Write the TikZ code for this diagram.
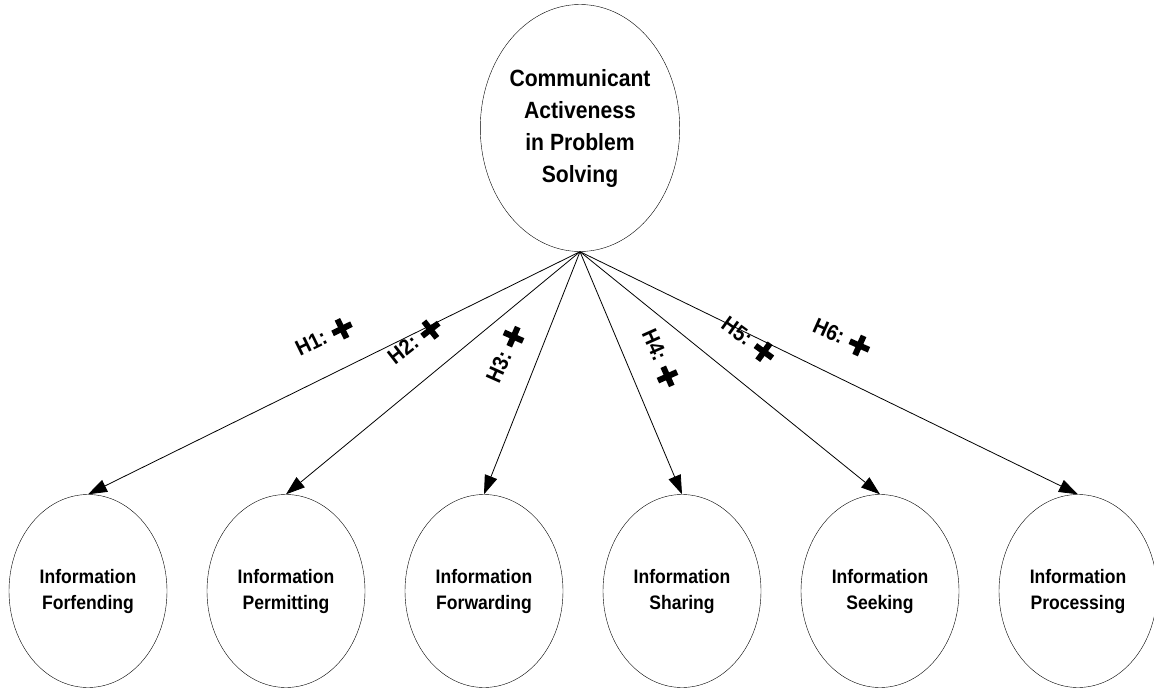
\documentclass[tikz,border=0pt]{standalone}
\usepackage{fontspec}
\setmainfont{Liberation Sans}
\newfontfamily\narrowsans[FakeStretch=0.9]{Liberation Sans}
\usetikzlibrary{shapes.geometric,arrows.meta}

\newcommand{\heavyplus}{\rlap{\rule[3.5pt]{21pt}{6pt}}\hspace{7.5pt}\rule[-4pt]{6pt}{21pt}\hspace{7.5pt}}

\tikzset{
	bigoval/.style={draw, ellipse, inner sep=0pt, minimum width=198pt, minimum height=247pt,
		align=center, font=\narrowsans\fontsize{23.5}{32}\selectfont\bfseries},
	smalloval/.style={draw, ellipse, inner sep=0pt, minimum width=158pt, minimum height=193pt,
		align=center, font=\narrowsans\fontsize{19.5}{26}\selectfont\bfseries},
	hyp/.style={inner sep=0pt, font=\narrowsans\fontsize{22}{24}\selectfont\bfseries},
	link/.style={line width=0.8pt, -{Triangle[length=19pt,width=13pt]}}
}

\begin{document}
\begin{tikzpicture}[x=1pt,y=-1pt]
	\useasboundingbox (0,0) rectangle (1154,690);
	\node[bigoval](cap) at (580,128) {Communicant\\Activeness\\in Problem\\Solving};
	\node[smalloval](i1) at (88,591) {Information\\Forfending};
	\node[smalloval](i2) at (286,591) {Information\\Permitting};
	\node[smalloval](i3) at (484,591) {Information\\Forwarding};
	\node[smalloval](i4) at (682,591) {Information\\Sharing};
	\node[smalloval](i5) at (880,591) {Information\\Seeking};
	\node[smalloval](i6) at (1078,591) {Information\\Processing};
	\foreach \n in {1,...,6}
		\draw[link] (cap.south) -- (i\n.north);
	\node[hyp, rotate=26](h1) at (321,339) {H1: \heavyplus};
	\node[hyp, rotate=38](h2) at (412,344) {H2: \heavyplus};
	\node[hyp, rotate=66](h3) at (504,358) {H3: \heavyplus};
	\node[hyp, rotate=-66](h4) at (658,355) {H4: \heavyplus};
	\node[hyp, rotate=-36](h5) at (745,338) {H5: \heavyplus};
	\node[hyp, rotate=-24](h6) at (838,336) {H6: \heavyplus};
\end{tikzpicture}
\end{document}
